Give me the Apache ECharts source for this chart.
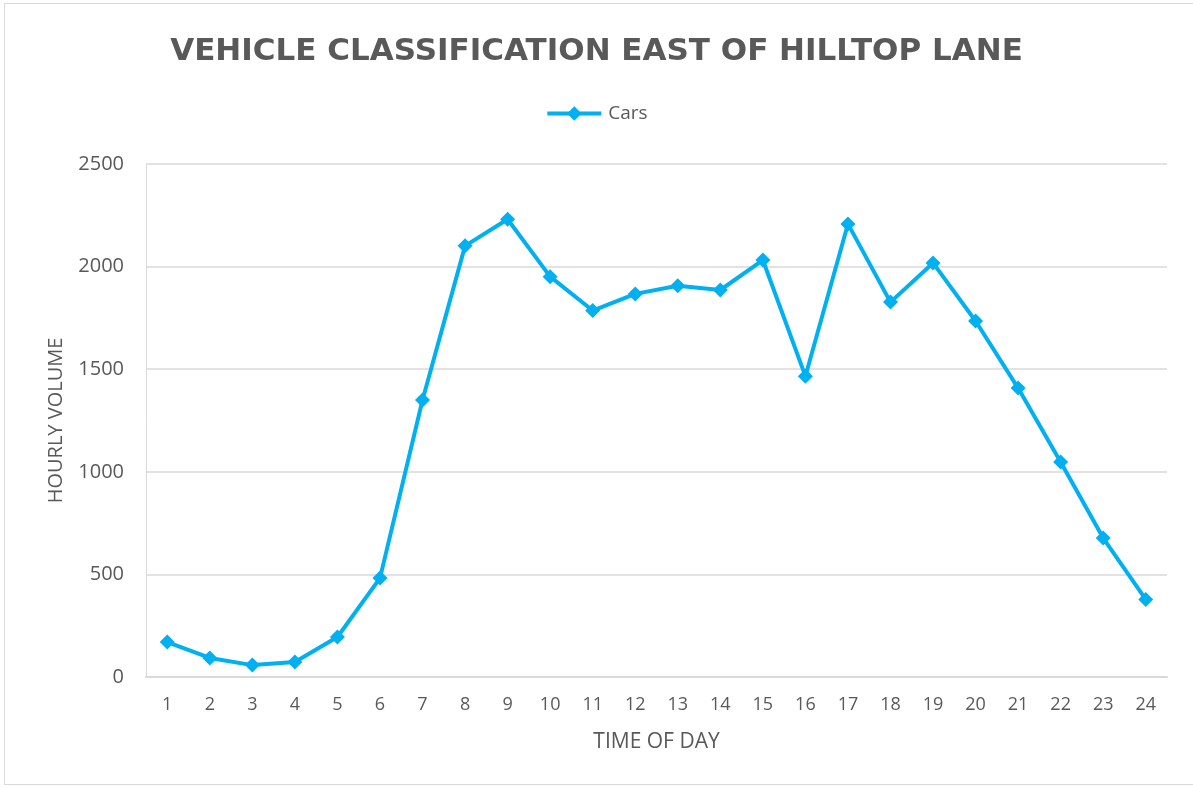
<!DOCTYPE html>
<html>
<head>
<meta charset="utf-8">
<script src="https://cdn.jsdelivr.net/npm/echarts@6/dist/echarts.min.js"></script>
<style>
  html, body { margin: 0; padding: 0; background: #fff; }
  #frame { position: absolute; left: 4px; top: 3px; width: 1200px; height: 782px; border: 1px solid #d9d9d9; box-sizing: border-box; }
  #chart { position: absolute; left: 0; top: 0; width: 1193px; height: 788px; }
</style>
</head>
<body>
<div id="frame"></div>
<div id="chart"></div>
<script>
const chartTitle = 'VEHICLE CLASSIFICATION EAST OF HILLTOP LANE';
const seriesName = 'Cars';
const hours = ['1','2','3','4','5','6','7','8','9','10','11','12','13','14','15','16','17','18','19','20','21','22','23','24'];
const cars = [170, 93, 58, 73, 195, 482, 1350, 2101, 2231, 1951, 1786, 1867, 1907, 1886, 2032, 1466, 2208, 1827, 2018, 1735, 1408, 1048, 677, 378];
const yTicks = { min: 0, max: 2500, interval: 500 };
const xName = 'TIME OF DAY';
const yName = 'HOURLY VOLUME';

const chart = echarts.init(document.getElementById('chart'), null, { renderer: 'canvas' });
chart.setOption({
  backgroundColor: 'transparent',
  animation: false,
  title: {
    text: chartTitle,
    left: 'center',
    top: 31,
    textStyle: { fontFamily: 'DejaVu Sans', fontWeight: 'bold', fontSize: 31, color: '#595959' }
  },
  legend: {
    data: [seriesName],
    top: 99,
    left: 'center',
    itemWidth: 54,
    itemHeight: 18,
    itemGap: 4,
    lineStyle: { width: 4 },
    textStyle: { fontFamily: 'Open Sans', fontSize: 19, color: '#595959', padding: [0, 0, 0, 2] }
  },
  grid: { left: 146, right: 26, top: 164, bottom: 111, containLabel: false },
  xAxis: {
    type: 'category',
    data: hours,
    boundaryGap: true,
    name: xName,
    nameLocation: 'middle',
    nameGap: 55,
    nameTextStyle: { fontFamily: 'Open Sans', fontSize: 21, color: '#595959' },
    axisLine: { show: true, lineStyle: { color: '#d9d9d9', width: 2 } },
    axisTick: { show: false },
    axisLabel: { fontFamily: 'Open Sans', fontSize: 18, color: '#595959', margin: 19, interval: 0 },
    splitLine: { show: false }
  },
  yAxis: {
    type: 'value',
    min: yTicks.min,
    max: yTicks.max,
    interval: yTicks.interval,
    name: yName,
    nameLocation: 'middle',
    nameGap: 80,
    nameTextStyle: { fontFamily: 'Open Sans', fontSize: 20, color: '#595959' },
    axisLine: { show: true, lineStyle: { color: '#d9d9d9', width: 1 } },
    axisTick: { show: false },
    axisLabel: { fontFamily: 'Open Sans', fontSize: 20, color: '#595959', margin: 22, formatter: function (v) { return String(v); } },
    splitLine: { show: true, lineStyle: { color: '#d9d9d9', width: 1.5 } }
  },
  series: [{
    name: seriesName,
    type: 'line',
    data: cars,
    symbol: 'diamond',
    symbolSize: 15,
    itemStyle: { color: '#00b0f0' },
    lineStyle: { color: '#00b0f0', width: 4 }
  }]
});
</script>
</body>
</html>
